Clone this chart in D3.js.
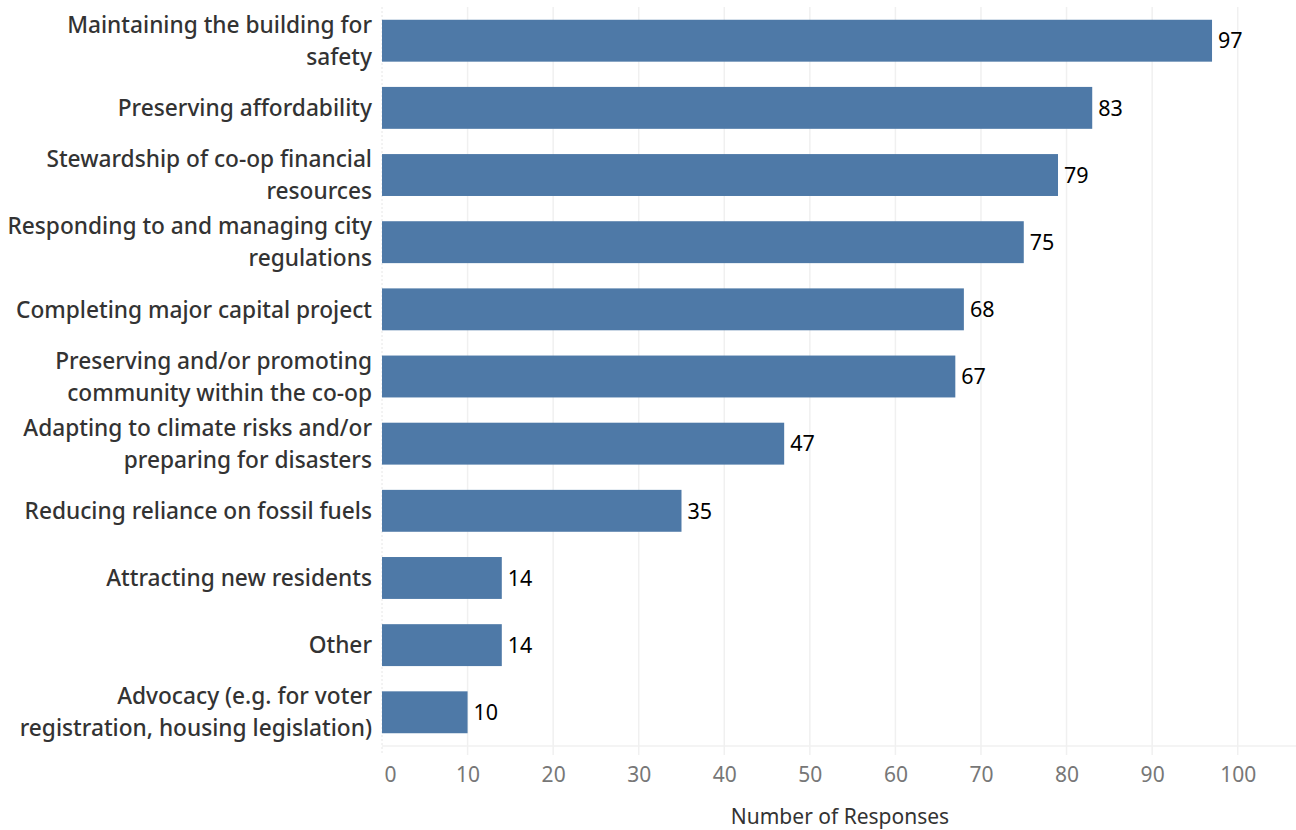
<!DOCTYPE html>
<html><head><meta charset="utf-8">
<script src="https://cdn.jsdelivr.net/npm/d3@7"></script>
<style>body{margin:0;background:#fff;} svg{display:block;}</style>
</head><body>
<svg id="c" width="1296" height="830"></svg>
<script>
const categories = [
  "Maintaining the building for\nsafety",
  "Preserving affordability",
  "Stewardship of co-op financial\nresources",
  "Responding to and managing city\nregulations",
  "Completing major capital project",
  "Preserving and/or promoting\ncommunity within the co-op",
  "Adapting to climate risks and/or\npreparing for disasters",
  "Reducing reliance on fossil fuels",
  "Attracting new residents",
  "Other",
  "Advocacy (e.g. for voter\nregistration, housing legislation)"
];
const values = [97, 83, 79, 75, 68, 67, 47, 35, 14, 14, 10];
const tickValues = [0, 10, 20, 30, 40, 50, 60, 70, 80, 90, 100];
const axisTitle = "Number of Responses";

const svg = d3.select("#c");
const pLeft = 382, pRight = 1296, pTop = 7, pBottom = 746;
const x = d3.scaleLinear().domain([0, 100]).range([pLeft, 1237.7]);
const y = d3.scaleBand().domain(categories).range([pTop, pBottom]).paddingInner(0.376).paddingOuter(0.19);

// gridlines
svg.append("g").selectAll("line").data(tickValues.slice(1)).join("line")
  .attr("x1", d => x(d)).attr("x2", d => x(d)).attr("y1", pTop).attr("y2", 755)
  .attr("stroke", "#f0f0f0").attr("stroke-width", 1.5);
// zero line
svg.append("line").attr("x1", pLeft).attr("x2", pLeft).attr("y1", pTop).attr("y2", 755)
  .attr("stroke", "#e6e6e6").attr("stroke-width", 1).attr("stroke-dasharray", "2,2");
// axis baseline
svg.append("line").attr("x1", pLeft).attr("x2", pRight).attr("y1", pBottom).attr("y2", pBottom)
  .attr("stroke", "#f0f0f0").attr("stroke-width", 1.5);

// bars
svg.append("g").selectAll("rect").data(values).join("rect")
  .attr("x", x(0)).attr("y", (d, i) => y(categories[i]))
  .attr("width", d => x(d) - x(0)).attr("height", y.bandwidth())
  .attr("fill", "#4e79a7");

// value labels
svg.append("g").selectAll("text").data(values).join("text")
  .attr("x", d => x(d) + 6).attr("y", (d, i) => y(categories[i]) + y.bandwidth() / 2)
  .attr("dy", "0.36em")
  .attr("font-family", "Noto Sans, sans-serif").attr("font-size", 21.5).attr("fill", "#000")
  .text(d => d);

// category labels
const cl = svg.append("g");
categories.forEach((c, i) => {
  const lines = c.split("\n");
  const cy = y(c) + y.bandwidth() / 2;
  const lh = 32;
  const t = cl.append("text").attr("text-anchor", "end")
    .attr("font-family", "Noto Sans, sans-serif").attr("font-size", 22.7).attr("font-weight", 500)
    .attr("fill", "#333");
  lines.forEach((ln, j) => {
    t.append("tspan").attr("x", 372)
      .attr("y", cy + (j - (lines.length - 1) / 2) * lh).attr("dy", "0.36em").text(ln);
  });
});

// tick labels via axis
const ax = svg.append("g").attr("transform", `translate(0,${pBottom})`)
  .call(d3.axisBottom(x).tickValues(tickValues).tickSize(0).tickPadding(21));
ax.select(".domain").remove();
ax.selectAll("text").attr("font-family", "Noto Sans, sans-serif").attr("font-size", 21)
  .attr("fill", "#777")
  .attr("text-anchor", d => d === 0 ? "start" : "middle")
  .attr("dx", d => d === 0 ? 2 : 0);

svg.append("text").attr("x", 840).attr("y", 824).attr("text-anchor", "middle")
  .attr("font-family", "Noto Sans, sans-serif").attr("font-size", 21).attr("fill", "#333")
  .text(axisTitle);
</script>
</body></html>
